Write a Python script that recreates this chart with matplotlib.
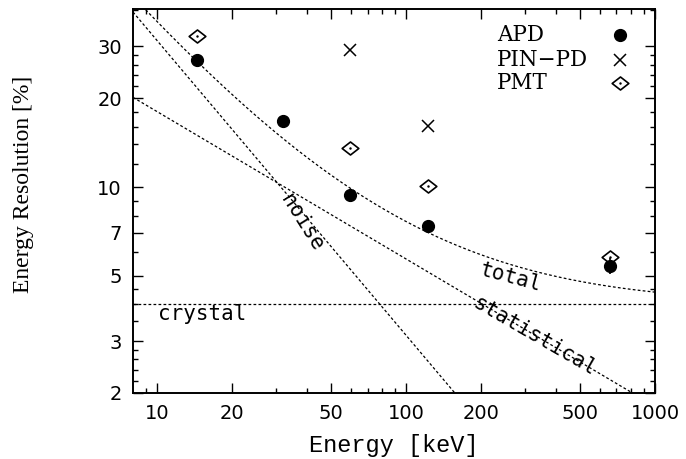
import matplotlib.pyplot as plt
import numpy as np
from matplotlib.ticker import FixedLocator, NullFormatter
from matplotlib.path import Path

# measured energy resolution (FWHM %) vs gamma energy
apd_e = [14.4, 32, 59.5, 122, 662]
apd_r = [27.0, 16.8, 9.4, 7.4, 5.4]
apd_err = [0, 0, 0, 0, 0.35]

pin_e = [59.5, 122]
pin_r = [29.2, 16.1]

pmt_e = [14.4, 59.5, 122, 662]
pmt_r = [32.5, 13.6, 10.1, 5.8]

# model components
crystal = 4.0      # constant term [%]
stat_coef = 57.0   # statistical term ~ 1/sqrt(E)
noise_coef = 314.0 # noise term ~ 1/E

xticks = [10, 20, 50, 100, 200, 500, 1000]
yticks = [2, 3, 5, 7, 10, 20, 30]

diamond = Path([(-1, 0), (0, 0.78), (1, 0), (0, -0.78), (-1, 0)],
               [Path.MOVETO, Path.LINETO, Path.LINETO, Path.LINETO, Path.CLOSEPOLY])

fig = plt.figure(figsize=(6.86, 4.59), dpi=100)
ax = fig.add_axes([0.1939, 0.1438, 0.9548 - 0.1939, 0.9804 - 0.1438])
ax.set_xscale('log')
ax.set_yscale('log')
ax.set_xlim(8.0, 1000)
ax.set_ylim(2, 40.2)

E = np.logspace(np.log10(8.0), 3, 400)
stat = stat_coef / np.sqrt(E)
noise = noise_coef / E
total = np.sqrt(crystal ** 2 + stat ** 2 + noise ** 2)

ls = (0, (2.2, 1.8))
lw = 0.9
ax.plot(E, total, color='black', ls=ls, lw=lw)
ax.plot(E, stat, color='black', ls=ls, lw=lw)
ax.plot(E, noise, color='black', ls=ls, lw=lw)
ax.axhline(crystal, color='black', ls=ls, lw=lw)

apd_style = dict(marker='o', color='black', ms=8.5)
pin_style = dict(marker='x', color='black', ms=9, mew=1.1)
pmt_style = dict(marker=diamond, mfc='white', mec='black', ms=12, mew=1.2)

ax.errorbar(apd_e, apd_r, yerr=apd_err, ls='none', elinewidth=1.2, capsize=0,
            zorder=3, **apd_style)
ax.plot(pin_e, pin_r, ls='none', **pin_style)
ax.plot(pmt_e, pmt_r, ls='none', **pmt_style)
ax.plot(pmt_e, pmt_r, '.', color='black', ms=1.5)

# legend: left-aligned names, symbols to the right
lfont = {'family': 'DejaVu Serif', 'size': 15.5}
names = ['APD', 'PIN\u2212PD', 'PMT']
styles = [apd_style, pin_style, pmt_style]
rows = [0.932, 0.867, 0.807]
for name, st, yy in zip(names, styles, rows):
    ax.text(0.697, yy, name, transform=ax.transAxes, va='center', ha='left', **lfont)
    ax.plot([0.933], [yy], transform=ax.transAxes, ls='none', clip_on=False, **st)
ax.plot([0.933], [rows[2]], transform=ax.transAxes, marker='.', color='black', ms=1.5)

tfont = dict(family='DejaVu Sans Mono', size=15)
ax.text(10.1, 3.72, 'crystal', va='center', ha='left', **tfont)
ax.text(38, 7.6, 'noise', va='center', ha='center', rotation=-58, **tfont)
ax.text(262, 4.95, 'total', va='center', ha='center', rotation=-15, **tfont)
ax.text(330, 3.1, 'statistical', va='center', ha='center', rotation=-30, **tfont)

ax.xaxis.set_major_locator(FixedLocator(xticks))
ax.xaxis.set_minor_locator(FixedLocator([9, 30, 40, 60, 70, 80, 90, 300, 400,
                                         600, 700, 800, 900]))
ax.set_xticklabels([str(t) for t in xticks])
ax.xaxis.set_minor_formatter(NullFormatter())
ax.yaxis.set_major_locator(FixedLocator(yticks))
ax.yaxis.set_minor_locator(FixedLocator([2.2, 2.4, 2.6, 2.8, 3.5, 4, 4.5, 6, 8, 9,
                                         12, 14, 16, 18, 22, 24, 26, 28, 40]))
ax.set_yticklabels([str(t) for t in yticks])
ax.yaxis.set_minor_formatter(NullFormatter())

ax.tick_params(which='both', direction='in', top=True, right=True, width=1.0)
ax.tick_params(which='major', length=7, labelsize=14, pad=8)
ax.tick_params(which='minor', length=3.5)
for lab in ax.get_xticklabels() + ax.get_yticklabels():
    lab.set_family('DejaVu Sans')
for s in ax.spines.values():
    s.set_linewidth(1.4)

ax.set_xlabel('Energy [keV]', family='Liberation Mono', size=17, labelpad=8)
ax.set_ylabel('Energy Resolution [%]', family='Liberation Serif', size=17, va='center')
ax.yaxis.set_label_coords(-0.209, 0.542)

plt.savefig('out.png', dpi=100)
